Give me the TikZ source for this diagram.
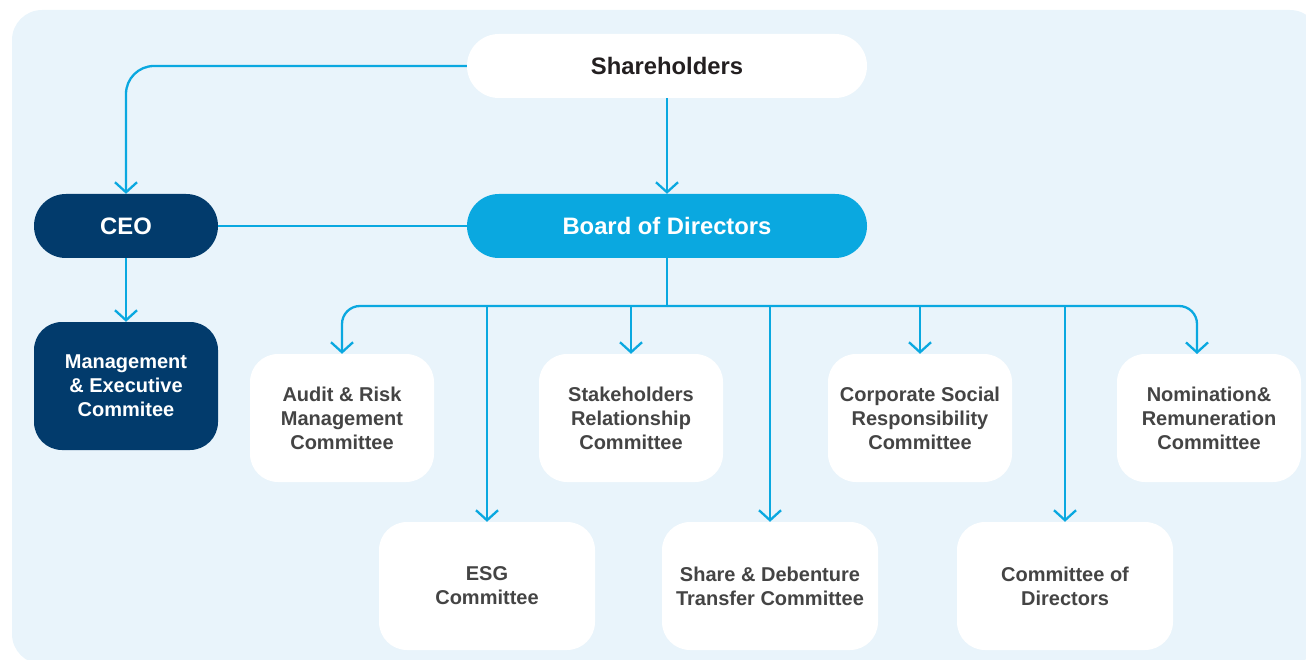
\documentclass[tikz,border=0pt]{standalone}
\usepackage{fontspec}
\setmainfont{Liberation Sans}
\usetikzlibrary{arrows.meta}
\definecolor{bgblue}{HTML}{E9F4FB}
\definecolor{lineblue}{HTML}{0AA8E0}
\definecolor{navy}{HTML}{023B6C}
\definecolor{boardblue}{HTML}{0AA8E0}
\definecolor{txtgray}{HTML}{444444}
\definecolor{txtdark}{HTML}{231F20}
\begin{document}
\begin{tikzpicture}[x=1pt,y=-1pt,
  pill/.style={rounded corners=31.9pt, minimum height=64pt, inner sep=0pt,
    font=\bfseries\fontsize{23.8}{28}\selectfont, align=center},
  shpill/.style={pill, fill=white, text=txtdark, minimum width=400pt},
  bodpill/.style={pill, fill=boardblue, text=white, minimum width=400pt},
  ceopill/.style={pill, fill=navy, text=white, minimum width=184pt},
  mgmtbox/.style={rounded corners=28pt, fill=navy, text=white, minimum width=184pt,
    minimum height=128pt, inner sep=0pt, align=center,
    font=\bfseries\fontsize{20}{24}\selectfont},
  combox/.style={rounded corners=28pt, fill=white, text=txtgray, minimum width=184pt,
    minimum height=128pt, inner sep=0pt, align=center,
    font=\bfseries\fontsize{20}{24}\selectfont},
  widebox/.style={combox, minimum width=216pt},
  wire/.style={draw=lineblue, line width=2.3pt},
  conn/.style={wire, -{Straight Barb[length=10pt,width=22pt]}},
]
\useasboundingbox (0,0) rectangle (1306,660);
\begin{scope}
\clip (0,0) rectangle (1306,660);
\fill[bgblue, rounded corners=30pt] (12,10) rectangle (1320,664);
\end{scope}

\node[shpill] (sh) at (667,66) {Shareholders};
\node[bodpill] (bod) at (667,226) {Board of Directors};
\node[ceopill] (ceo) at (126,226) {CEO};
\node[mgmtbox] (mgmt) at (126,386) {Management\\\& Executive\\Commitee};

\node[combox] (audit) at (342,418) {Audit \& Risk\\Management\\Committee};
\node[combox] (stake) at (631,418) {Stakeholders\\Relationship\\Committee};
\node[combox] (csr) at (920,418) {Corporate Social\\Responsibility\\Committee};
\node[combox] (nom) at (1209,418) {Nomination\&\\Remuneration\\Committee};

\node[widebox] (esg) at (487,586) {ESG\\Committee};
\node[widebox] (share) at (770,586) {Share \& Debenture\\Transfer Committee};
\node[widebox] (cod) at (1065,586) {Committee of\\Directors};

\coordinate (j) at (667,306);
\coordinate (nomtop) at (1197,354);

\draw[conn, rounded corners=28pt] (sh.west) -| (ceo.north);
\draw[conn] (sh.south) -- (bod.north);
\draw[wire] (ceo.east) -- (bod.west);
\draw[conn] (ceo.south) -- (mgmt.north);
\draw[wire] (bod.south) -- (j);
\draw[conn, rounded corners=18pt] (j) -| (audit.north);
\draw[conn, rounded corners=18pt] (j) -| (nomtop);
\draw[conn] (stake.north |- j) -- (stake.north);
\draw[conn] (csr.north |- j) -- (csr.north);
\draw[conn] (j -| esg.north) -- (esg.north);
\draw[conn] (j -| share.north) -- (share.north);
\draw[conn] (j -| cod.north) -- (cod.north);
\end{tikzpicture}
\end{document}
